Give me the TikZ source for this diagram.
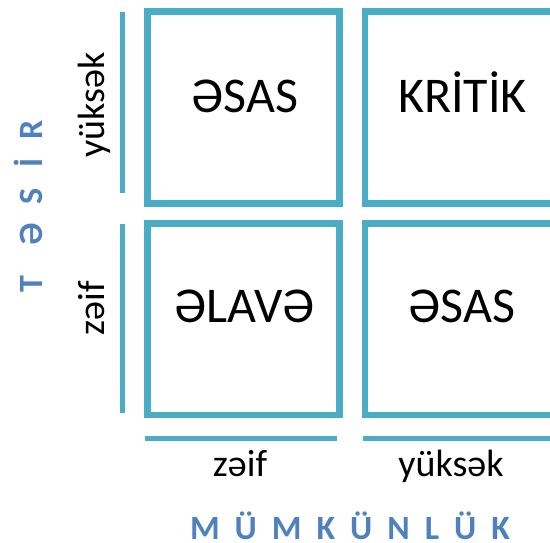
\documentclass[tikz,border=0pt]{standalone}
\usepackage{fontspec}
\setmainfont{Carlito}
\definecolor{boxc}{HTML}{4BACC6}
\definecolor{labc}{HTML}{4F81BD}
\begin{document}
\begin{tikzpicture}[x=1pt,y=-1pt,
  cell/.style={draw=boxc, line width=6.7pt, minimum width=192pt, minimum height=191.6pt, inner sep=0pt},
  big/.style={font=\fontsize{50}{60}\selectfont, anchor=base, inner sep=0pt},
  small/.style={font=\fontsize{38}{45}\selectfont, anchor=base, inner sep=0pt},
  axisline/.style={draw=boxc, line width=5.5pt},
  ttl/.style={font=\fontsize{34}{40}\selectfont\bfseries, text=labc, anchor=base, inner sep=0pt, text depth=0pt}]
\useasboundingbox (0,0) rectangle (550,543);
\clip (0,0) rectangle (550,543);
% cells
\node[cell] (c11) at (243.5,107.5) {};
\node[cell] (c12) at (461,107.5) {};
\node[cell] (c21) at (243.5,319.2) {};
\node[cell] (c22) at (461,319.2) {};
% axis lines
\coordinate (v1a) at (122.5,11.7);
\coordinate (v1b) at (122.5,193.3);
\coordinate (v2a) at (122.5,224);
\coordinate (v2b) at (122.5,413);
\coordinate (h1a) at (145,438.5);
\coordinate (h1b) at (337,438.5);
\coordinate (h2a) at (363,438.5);
\coordinate (h2b) at (565,438.5);
\draw[axisline] (v1a) -- (v1b);
\draw[axisline] (v2a) -- (v2b);
\draw[axisline] (h1a) -- (h1b);
\draw[axisline] (h2a) -- (h2b);
% cell texts
\node[big] (t11) at (245,113) {ƏSAS};
\node[big] (t12) at (462.5,113) {KRİTİK};
\node[big] (t21) at (244.5,322.5) {ƏLAVƏ};
\node[big] (t22) at (462,323) {ƏSAS};
% level labels
\node[small, rotate=90] (ly1) at (104,105) {yüksək};
\node[small, rotate=90] (ly2) at (104,308.5) {zəif};
\node[small] (lx1) at (240,476) {zəif};
\node[small] (lx2) at (451,476) {yüksək};
% axis titles
\node[ttl] (tx) at (350,539.5) {M\kern15ptÜ\kern15ptM\kern15ptK\kern15ptÜ\kern15ptN\kern15ptL\kern15ptÜ\kern15ptK};
\node[ttl, rotate=90] (ty) at (42,206.5) {T\kern30ptƏ\kern19ptS\kern21ptİ\kern19ptR};
\end{tikzpicture}
\end{document}
